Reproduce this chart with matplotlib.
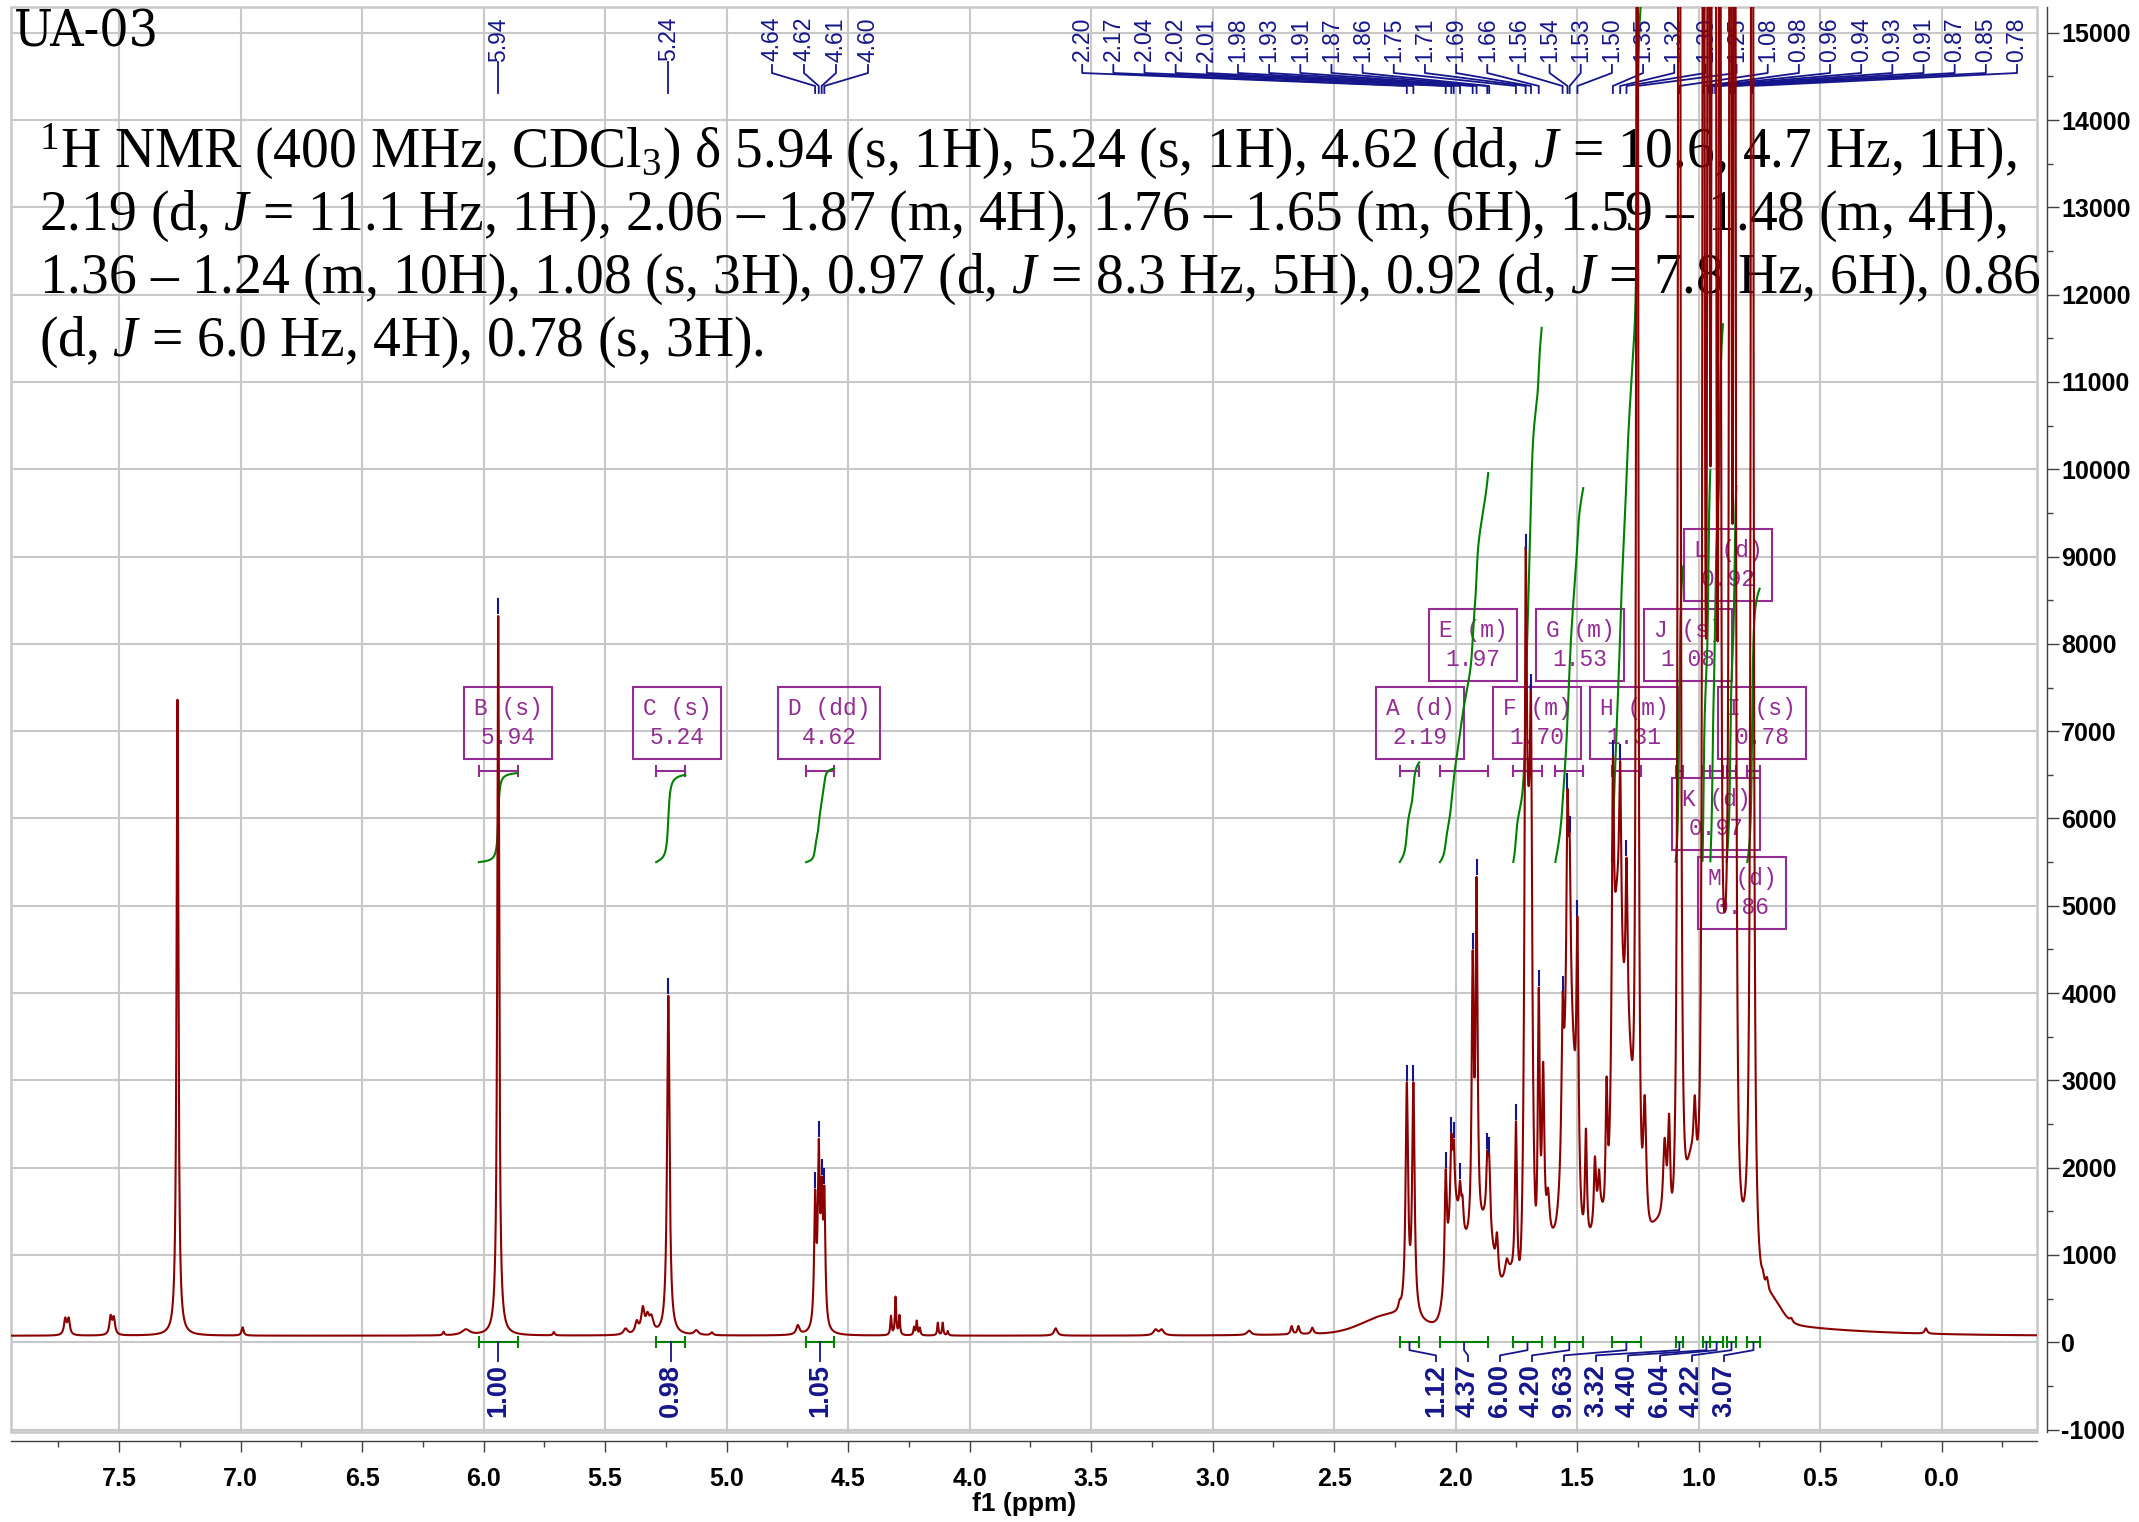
import numpy as np
import matplotlib
matplotlib.use('Agg')
import matplotlib.pyplot as plt
import matplotlib.font_manager as fm
from matplotlib.patches import Rectangle
from matplotlib.ticker import MultipleLocator
from matplotlib.transforms import blended_transform_factory

plt.rcParams['font.family'] = ['Liberation Sans', 'DejaVu Sans']
plt.rcParams['font.weight'] = 'bold'   # tick labels are bold, other texts set normal
plt.rcParams['mathtext.fontset'] = 'custom'
plt.rcParams['mathtext.rm'] = 'Liberation Serif:weight=normal'
plt.rcParams['mathtext.it'] = 'Liberation Serif:style=italic:weight=normal'

RED = '#8B0000'
NAVY = '#16168C'
GREEN = '#008000'
PURPLE = '#932C93'
GRID = '#C8C8C8'

# peaks: shift (ppm), height at the top, half width (ppm)
peak_ppm = [7.722, 7.708, 7.535, 7.522, 7.260, 6.992, 6.165, 6.073, 5.940, 5.711,
            5.416, 5.370, 5.345, 5.326, 5.310, 5.240, 5.125, 5.061, 4.707,
            4.636, 4.621, 4.609, 4.598, 4.324, 4.305, 4.289, 4.229, 4.218, 4.205,
            4.131, 4.111, 4.090, 3.646, 3.235, 3.210, 2.850, 2.675, 2.647, 2.590,
            2.231, 2.201, 2.174, 2.041, 2.018, 2.008, 1.982, 1.972, 1.930, 1.914,
            1.870, 1.862, 1.830, 1.790, 1.752, 1.712, 1.690, 1.658, 1.640, 1.620,
            1.560, 1.540, 1.531, 1.499, 1.464, 1.427, 1.410, 1.379, 1.353, 1.323,
            1.297, 1.253, 1.222, 1.140, 1.122, 1.080, 1.016, 0.980, 0.960, 0.943,
            0.932, 0.913, 0.870, 0.852, 0.780, 0.736, 0.719, 0.619, 0.065]
peak_top = [285, 285, 315, 300, 7360, 172, 122, 150, 8320, 118,
            160, 255, 416, 350, 320, 3970, 140, 115, 198,
            1750, 2330, 1900, 1790, 306, 524, 314, 180, 250, 170,
            226, 226, 130, 160, 150, 150, 134, 187, 187, 168,
            494, 2979, 2979, 1980, 2384, 2320, 1853, 1683, 4488, 5330,
            2193, 2150, 1258, 960, 2533, 9060, 7450, 4063, 3213, 1768,
            4000, 6315, 5826, 4870, 2448, 2129, 1980, 3043, 6700, 6650,
            5550, 25000, 2830, 2342, 2618, 36000, 2830, 34000, 34000, 30000,
            29000, 30000, 34000, 34000, 36000, 833, 748, 280, 160]
peak_hw = [0.006, 0.006, 0.006, 0.006, 0.0045, 0.005, 0.004, 0.02, 0.0045, 0.004,
           0.01, 0.008, 0.008, 0.008, 0.01, 0.006, 0.01, 0.006, 0.008,
           0.0048, 0.0048, 0.0048, 0.0048, 0.003, 0.003, 0.003, 0.003, 0.003, 0.003,
           0.003, 0.003, 0.003, 0.008, 0.01, 0.01, 0.01, 0.005, 0.005, 0.006,
           0.005, 0.006, 0.006, 0.005, 0.005, 0.005, 0.005, 0.005, 0.005, 0.005,
           0.005, 0.005, 0.006, 0.008, 0.005, 0.005, 0.005, 0.005, 0.006, 0.008,
           0.005, 0.005, 0.005, 0.005, 0.005, 0.005, 0.005, 0.005, 0.005, 0.005,
           0.005, 0.004, 0.008, 0.008, 0.006, 0.004, 0.006, 0.0035, 0.0035, 0.0035,
           0.0035, 0.0035, 0.0035, 0.0035, 0.004, 0.006, 0.006, 0.006, 0.006]

# broad humps under the aliphatic multiplets
hump_ppm = [2.28, 2.01, 1.95, 1.87, 1.78, 1.70, 1.60, 1.53, 1.44, 1.40, 1.335, 1.29,
            1.17, 1.03, 0.89, 0.81, 0.70, 1.30]
hump_top = [180, 900, 800, 900, 500, 4500, 800, 3000, 800, 600, 4200, 2500,
            900, 1300, 2500, 450, 220, 150]
hump_sd = [0.10, 0.025, 0.045, 0.03, 0.03, 0.013, 0.04, 0.025, 0.04, 0.02, 0.02, 0.02,
           0.05, 0.025, 0.015, 0.03, 0.04, 0.6]

baseline = 75

# picked peaks (top labels)
pick_single = [5.940, 5.240]
pick_group = [4.636, 4.621, 4.609, 4.598]
pick_alkyl = [2.201, 2.174, 2.041, 2.018, 2.008, 1.982, 1.930, 1.914, 1.870, 1.862,
              1.752, 1.712, 1.690, 1.658, 1.560, 1.540, 1.531, 1.499, 1.353, 1.323,
              1.297, 1.253, 1.080, 0.980, 0.960, 0.943, 0.932, 0.913, 0.870, 0.852,
              0.780]

# integral regions and multiplets, left to right
int_hi = [6.02, 5.29, 4.673, 2.230, 2.065, 1.763, 1.590, 1.357, 1.095, 0.984, 0.952, 0.885, 0.800]
int_lo = [5.86, 5.17, 4.558, 2.150, 1.866, 1.646, 1.475, 1.238, 1.064, 0.952, 0.900, 0.845, 0.749]
int_val = [1.00, 0.98, 1.05, 1.12, 4.37, 6.00, 4.20, 9.63, 3.32, 4.40, 6.04, 4.22, 3.07]
mult_name = ['B', 'C', 'D', 'A', 'E', 'F', 'G', 'H', 'J', 'K', 'L', 'M', 'I']
mult_kind = ['s', 's', 'dd', 'd', 'm', 'm', 'm', 'm', 's', 'd', 'd', 'd', 's']
mult_shift = [5.94, 5.24, 4.62, 2.19, 1.97, 1.70, 1.53, 1.31, 1.08, 0.97, 0.92, 0.86, 0.78]

text_lines = [
    r'$^{1}$H NMR (400 MHz, CDCl$_{3}$) δ 5.94 (s, 1H), 5.24 (s, 1H), 4.62 (dd, $J$ = 10.6, 4.7 Hz, 1H),',
    r'2.19 (d, $J$ = 11.1 Hz, 1H), 2.06 – 1.87 (m, 4H), 1.76 – 1.65 (m, 6H), 1.59 – 1.48 (m, 4H),',
    r'1.36 – 1.24 (m, 10H), 1.08 (s, 3H), 0.97 (d, $J$ = 8.3 Hz, 5H), 0.92 (d, $J$ = 7.8 Hz, 6H), 0.86',
    r'(d, $J$ = 6.0 Hz, 4H), 0.78 (s, 3H).',
]

# ---- build the trace from the peak list
P = np.array(peak_ppm)
T = np.array(peak_top, float)
W = np.array(peak_hw)
HP = np.array(hump_ppm)
HT = np.array(hump_top, float)
HS = np.array(hump_sd)


def humps(v):
    v = np.asarray(v, float)[..., None]
    return baseline + (HT * np.exp(-0.5 * ((v - HP) / HS) ** 2)).sum(-1)


def lines(v, amp):
    v = np.asarray(v, float)
    out = np.zeros_like(v)
    for c, a, w in zip(P, amp, W):
        out += a * w * w / ((v - c) ** 2 + w * w)
    return out


# heights above are what the trace shows, so solve for the line amplitudes
resp = W ** 2 / ((P[:, None] - P[None, :]) ** 2 + W ** 2)
need = T - humps(P)
amp = np.clip(need, 0, None)
for _ in range(400):
    amp = np.clip(amp + 0.5 * (need - resp @ amp), 0, None)

x = np.linspace(7.943, -0.391, 60000)
spec = humps(x) + lines(x, amp)

# ---- figure
fig = plt.figure(figsize=(21.39, 15.22), dpi=100)
ax = fig.add_axes([0.005376, 0.05933, 0.94679, 0.93607])
ax.set_xlim(7.943, -0.391)
ax.set_ylim(-1024, 15295)


def top(Y):
    # pixel row of the picture -> axes fraction
    return (1431.7 - Y) / 1424.7


tr = blended_transform_factory(ax.transData, ax.transAxes)

ax.plot(x, spec, color=RED, lw=1.5, zorder=4)

# integral curves
for hi, lo, val in zip(int_hi, int_lo, int_val):
    m = (x <= hi) & (x >= lo)
    area = np.cumsum(spec[m] - baseline)
    ax.plot(x[m], 5500 + 1020 * val * area / area[-1], color=GREEN, lw=1.5, zorder=3)

# integral bars and values at the bottom
for k, (hi, lo, val) in enumerate(zip(int_hi, int_lo, int_val)):
    mid = (hi + lo) / 2
    ax.plot([hi, lo], [0, 0], color=GREEN, lw=1.5, zorder=3)
    for e in (hi, lo):
        ax.plot([e, e], [-55, 55], color=GREEN, lw=1.5, zorder=3)
    if k < 3:
        lx = mid
        ax.plot([mid, mid], [0, -215], color=NAVY, lw=1.3, zorder=3)
    else:
        lx = 2.081 - 0.1317 * (k - 3)
        ax.plot([mid, mid, lx, lx], [0, -90, -150, -215], color=NAVY, lw=1.3, zorder=3)
    ax.text(lx, -250, f'{val:.2f}', rotation=90, ha='center', va='top',
            fontsize=19.5, fontweight='bold', color=NAVY, zorder=3)

# multiplet boxes
box_xy = {'A': (2.147, 7094), 'B': (5.900, 7094), 'C': (5.204, 7094), 'D': (4.579, 7094),
          'E': (1.928, 7990), 'F': (1.665, 7094), 'G': (1.488, 7990), 'H': (1.266, 7094),
          'I': (0.740, 7094), 'J': (1.044, 7990), 'K': (0.929, 6051), 'L': (0.879, 8906),
          'M': (0.822, 5147)}
for name, kind, sh, hi, lo in zip(mult_name, mult_kind, mult_shift, int_hi, int_lo):
    ax.plot([hi, lo], [6546, 6546], color=PURPLE, lw=1.5, zorder=2)
    for e in (hi, lo):
        ax.plot([e, e], [6490, 6600], color=PURPLE, lw=1.5, zorder=2)
    bx, by = box_xy[name]
    ax.text(bx, by, f'{name} ({kind})\n{sh:.2f}', ha='center', va='center',
            multialignment='center', family='Liberation Mono', fontsize=16.5,
            fontweight='normal', color=PURPLE, linespacing=1.35, zorder=2,
            bbox=dict(boxstyle='square,pad=0.42', fc='none', ec=PURPLE, lw=1.5))

# peak picks: markers on the trace and labels on top
picks = np.array(pick_single + pick_group + pick_alkyl)
at = humps(picks) + lines(picks, amp)
for p, h in zip(picks, at):
    if h < 14900:
        ax.plot([p, p], [h + 30, h + 190], color=NAVY, lw=1.5, zorder=5)

for p in pick_single:
    ax.plot([p, p], [top(62), top(93)], color=NAVY, lw=1.3, transform=tr)
    ax.text(p, top(17), f'{p:.2f}', rotation=90, ha='center', va='top',
            color=NAVY, fontsize=16.5, fontweight='normal', transform=tr)

g0 = np.mean(pick_group)
for i, p in enumerate(pick_group):
    lx = g0 + 0.1317 * (1.5 - i)
    ax.plot([lx, lx, p, p], [top(65), top(73), top(86), top(93)], color=NAVY, lw=1.3, transform=tr)
    ax.text(lx, top(17), f'{p:.2f}', rotation=90, ha='center', va='top',
            color=NAVY, fontsize=16.5, fontweight='normal', transform=tr)

n = len(pick_alkyl)
for i, p in enumerate(pick_alkyl):
    lx = 3.537 + (-0.310 - 3.537) * i / (n - 1)
    ax.plot([lx, lx, p, p], [top(65), top(73), top(86), top(93)], color=NAVY, lw=1.3, transform=tr)
    ax.text(lx, top(17), f'{p:.2f}', rotation=90, ha='center', va='top',
            color=NAVY, fontsize=16.5, fontweight='normal', transform=tr)

# sample name: a condensed face if one is installed
narrow = [f.fname for f in fm.fontManager.ttflist
          if f.stretch == 'condensed' and f.style == 'normal' and f.weight in (400, 'normal')
          and f.name in ('DejaVu Serif', 'Liberation Sans Narrow', 'DejaVu Sans')]
narrow.sort(key=lambda s: 'Serif' not in s)
if narrow:
    ua_font = fm.FontProperties(fname=narrow[0], size=37)
else:
    ua_font = fm.FontProperties(family='Liberation Serif', weight='normal', size=32)
ax.text(0.0012, top(8), 'UA-03', transform=ax.transAxes, ha='left', va='top',
        fontproperties=ua_font, zorder=1)

for s, Y in zip(text_lines, [167.3, 230, 293, 356]):
    ax.text(0.0135, top(Y), s, transform=ax.transAxes, ha='left', va='baseline',
            family='Liberation Serif', fontweight='normal', fontsize=40, zorder=1)

# axes dressing
ax.tick_params(axis='x', which='major', length=8, width=1, pad=11, color='#404040', labelsize=18)
ax.tick_params(axis='x', which='minor', length=4, width=1, color='#404040')
ax.yaxis.tick_right()
ax.tick_params(axis='y', which='major', length=8.5, width=1, pad=2, color='#404040', labelsize=18)
ax.tick_params(axis='y', which='minor', length=4.3, width=1, color='#404040')
xt = np.arange(0, 7.51, 0.5)
ax.set_xticks(xt)
ax.set_xticklabels([f'{t:.1f}' for t in xt], fontsize=18, fontweight='bold')
ax.xaxis.set_minor_locator(MultipleLocator(0.25))
yt = np.arange(-1000, 15001, 1000)
ax.set_yticks(yt)
ax.set_yticklabels([f'{int(t)}' for t in yt], fontsize=18, fontweight='bold')
ax.yaxis.set_minor_locator(MultipleLocator(500))

ax.grid(True, which='major', color=GRID, lw=1.5)
ax.set_axisbelow(True)
for s in ('top', 'left'):
    ax.spines[s].set_visible(False)
ax.spines['bottom'].set_position(('outward', 6.7))
ax.spines['right'].set_position(('outward', 7.2))
for s in ('bottom', 'right'):
    ax.spines[s].set_color('#404040')
    ax.spines[s].set_linewidth(1.0)
ax.add_patch(Rectangle((0, 0), 1, 1, transform=ax.transAxes, fill=False,
                       ec=GRID, lw=1.8, zorder=0.6, clip_on=False))

ax.set_xlabel('f1 (ppm)', fontsize=19, fontweight='bold')
ax.xaxis.set_label_coords(0.5, top(1504))
ax.xaxis.label.set_verticalalignment('center')

fig.savefig('out.png', dpi=100)
